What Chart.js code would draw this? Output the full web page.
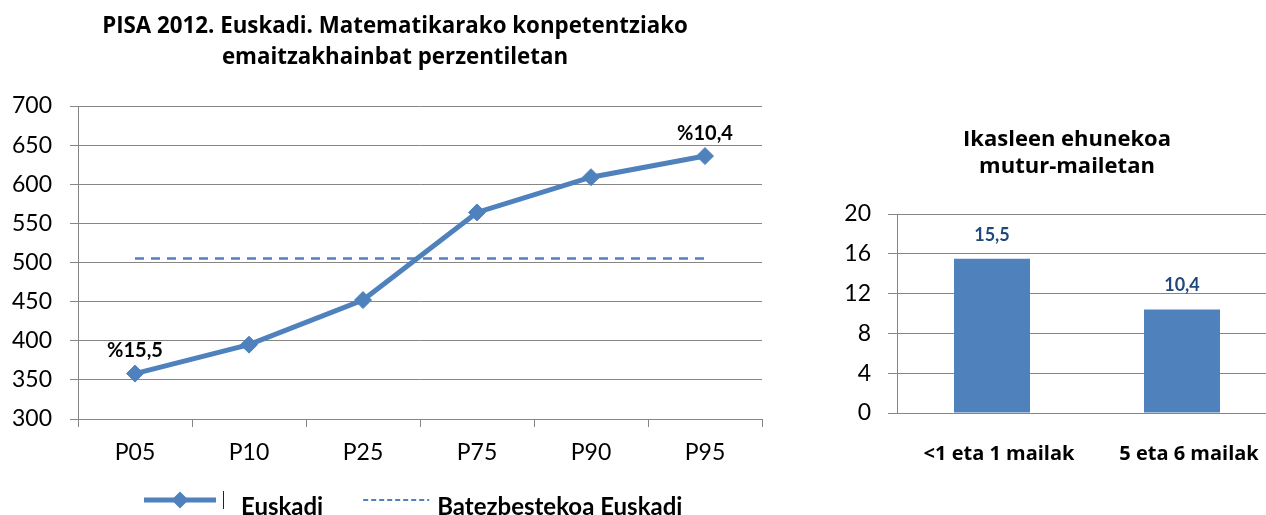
<!DOCTYPE html>
<html><head><meta charset="utf-8">
<script src="https://cdn.jsdelivr.net/npm/chart.js@4.4.1/dist/chart.umd.min.js"></script>
<style>
html,body{margin:0;padding:0;width:1266px;height:515px;overflow:hidden;background:#fff;}
#c1{position:absolute;left:0;top:0;}
#c2{position:absolute;left:820px;top:0;}
</style></head><body>
<canvas id="c1" width="790" height="540"></canvas>
<canvas id="c2" width="494" height="515"></canvas>
<script>
// ---- data ----
const percentiles = ['P05', 'P10', 'P25', 'P75', 'P90', 'P95'];
const euskadiScores = [358, 395, 452, 564, 609, 636];
const euskadiMean = [505, 505, 505, 505, 505, 505];
const pointLabels = ['%15,5', '', '', '', '', '%10,4'];
const seriesNames = ['Euskadi', 'Batezbestekoa Euskadi'];
const lineTitle = ['PISA 2012. Euskadi. Matematikarako konpetentziako', 'emaitzakhainbat perzentiletan'];
const lineAxis = { min: 300, max: 700, step: 50 };

const levelCategories = ['<1 eta 1 mailak', '5 eta 6 mailak'];
const levelPercents = [15.5, 10.4];
const barTitle = ['Ikasleen ehunekoa', 'mutur-mailetan'];
const barAxis = { min: 0, max: 20, step: 4 };

// ---- styles ----
const BLUE = '#4F81BD';
const GRID = '#868686';
const FONT = 'Lato';
const TFONT = "'Open Sans'";

const pointLabelPlugin = {
  id: 'pointLabels',
  afterDatasetsDraw(chart, args, o) {
    const ctx = chart.ctx;
    const meta = chart.getDatasetMeta(0);
    ctx.save();
    ctx.font = 'bold 20px ' + FONT;
    ctx.fillStyle = '#000';
    ctx.textAlign = 'center';
    ctx.textBaseline = 'middle';
    meta.data.forEach((pt, i) => {
      const t = o.labels[i];
      if (t) ctx.fillText(t, pt.x, pt.y - o.offset);
    });
    ctx.restore();
  }
};

const seriesLegendPlugin = {
  id: 'seriesLegend',
  afterDraw(chart, args, o) {
    const { ctx, chartArea } = chart;
    const ds = chart.data.datasets;
    const y = chartArea.bottom + 81;
    const base = chartArea.bottom + 96;
    let x = chartArea.left + 66;
    ctx.save();
    // item 1: thick line with diamond
    ctx.strokeStyle = ds[0].borderColor;
    ctx.lineWidth = ds[0].borderWidth;
    ctx.beginPath(); ctx.moveTo(x, y); ctx.lineTo(x + 72, y); ctx.stroke();
    const r = ds[0].pointRadius, cx = x + 36;
    ctx.fillStyle = ds[0].pointBackgroundColor;
    ctx.beginPath();
    ctx.moveTo(cx - r, y); ctx.lineTo(cx, y - r); ctx.lineTo(cx + r, y); ctx.lineTo(cx, y + r);
    ctx.closePath(); ctx.fill();
    ctx.strokeStyle = '#222'; ctx.lineWidth = 1;
    ctx.beginPath(); ctx.moveTo(x + 79.5, y - 9); ctx.lineTo(x + 79.5, y + 9); ctx.stroke();
    ctx.font = 'bold 24px ' + FONT;
    ctx.fillStyle = '#000';
    ctx.textBaseline = 'alphabetic';
    ctx.textAlign = 'left';
    const t1x = x + 97;
    ctx.fillText(ds[0].label, t1x, base);
    const w1 = ctx.measureText(ds[0].label).width;
    // item 2: dashed line
    const x2 = t1x + w1 + 40;
    ctx.strokeStyle = ds[1].borderColor;
    ctx.lineWidth = 2;
    ctx.setLineDash([5, 3]);
    ctx.beginPath(); ctx.moveTo(x2, y); ctx.lineTo(x2 + 66, y); ctx.stroke();
    ctx.setLineDash([]);
    ctx.fillText(ds[1].label, x2 + 74, base);
    ctx.restore();
  }
};

const barValuePlugin = {
  id: 'barValues',
  afterDatasetsDraw(chart, args, o) {
    const ctx = chart.ctx;
    const meta = chart.getDatasetMeta(0);
    const vals = chart.data.datasets[0].data;
    ctx.save();
    ctx.font = 'bold 18px ' + FONT;
    ctx.fillStyle = '#1F497D';
    ctx.textAlign = 'center';
    ctx.textBaseline = 'middle';
    meta.data.forEach((bar, i) => {
      ctx.fillText(String(vals[i]).replace('.', ','), bar.x, bar.y - o.offset);
    });
    ctx.restore();
  }
};

new Chart(document.getElementById('c1'), {
  type: 'line',
  data: {
    labels: percentiles,
    datasets: [
      { label: seriesNames[0], data: euskadiScores, borderColor: BLUE, backgroundColor: BLUE,
        borderWidth: 5, pointStyle: 'rectRot', pointRadius: 8.5, pointBorderWidth: 1,
        pointBackgroundColor: BLUE, pointBorderColor: BLUE, tension: 0, fill: false },
      { label: seriesNames[1], data: euskadiMean, borderColor: BLUE, backgroundColor: BLUE,
        borderWidth: 2.5, borderDash: [9, 7], pointRadius: 0, tension: 0, fill: false }
    ]
  },
  options: {
    responsive: false, animation: false, devicePixelRatio: 1,
    layout: { padding: { left: 0, right: 0, top: 0, bottom: 71 } },
    plugins: {
      legend: { display: false },
      tooltip: { enabled: false },
      title: { display: true, text: lineTitle, color: '#000',
        font: { family: TFONT, size: 22.3, weight: 'bold', lineHeight: '31px' },
        padding: { top: 11.5, bottom: 32.5 } },
      pointLabels: { labels: pointLabels, offset: 23 }
    },
    scales: {
      x: {
        offset: true,
        grid: { offset: true, drawOnChartArea: false, drawTicks: true, tickLength: 8, color: GRID, lineWidth: 1 },
        border: { color: GRID, width: 1 },
        ticks: { color: '#000', font: { family: FONT, size: 23 }, padding: 12, maxRotation: 0, autoSkip: false },
        afterFit(s) { s.height = 50; }
      },
      y: {
        min: lineAxis.min, max: lineAxis.max,
        ticks: { stepSize: lineAxis.step, color: '#000', font: { family: FONT, size: 23 }, padding: 18 },
        grid: { color: GRID, lineWidth: 1, tickLength: 8 },
        border: { color: GRID, width: 1 },
        afterFit(s) { s.width = 78; }
      },
      yPad: {
        position: 'right', display: true,
        grid: { display: false }, border: { display: false }, ticks: { display: false },
        afterFit(s) { s.width = 28; }
      }
    }
  },
  plugins: [pointLabelPlugin, seriesLegendPlugin]
});

new Chart(document.getElementById('c2'), {
  type: 'bar',
  data: {
    labels: levelCategories,
    datasets: [{ label: 'Ikasleen ehunekoa', data: levelPercents, backgroundColor: BLUE,
      borderWidth: 0, barPercentage: 0.4, categoryPercentage: 1 }]
  },
  options: {
    responsive: false, animation: false, devicePixelRatio: 1,
    layout: { padding: { left: 0, right: 0, top: 0, bottom: 42 } },
    plugins: {
      legend: { display: false },
      tooltip: { enabled: false },
      title: { display: true, text: barTitle, color: '#000',
        font: { family: TFONT, size: 22, weight: 'bold', lineHeight: '27px' },
        padding: { top: 126.5, bottom: 33.5 } },
      barValues: { offset: 24 }
    },
    scales: {
      x: {
        grid: { display: false },
        border: { color: GRID, width: 1 },
        ticks: { color: '#000', font: { family: TFONT, size: 20, weight: 'bold' }, padding: 21, labelOffset: 7, maxRotation: 0, autoSkip: false },
        afterFit(s) { s.height = 60; }
      },
      y: {
        min: barAxis.min, max: barAxis.max,
        ticks: { stepSize: barAxis.step, color: '#000', font: { family: FONT, size: 23 }, padding: 17 },
        grid: { color: GRID, lineWidth: 1, tickLength: 9 },
        border: { color: GRID, width: 1 },
        afterFit(s) { s.width = 77; }
      },
      yPad: {
        position: 'right', display: true,
        grid: { display: false }, border: { display: false }, ticks: { display: false },
        afterFit(s) { s.width = 37; }
      }
    }
  },
  plugins: [barValuePlugin]
});
</script>
</body></html>
